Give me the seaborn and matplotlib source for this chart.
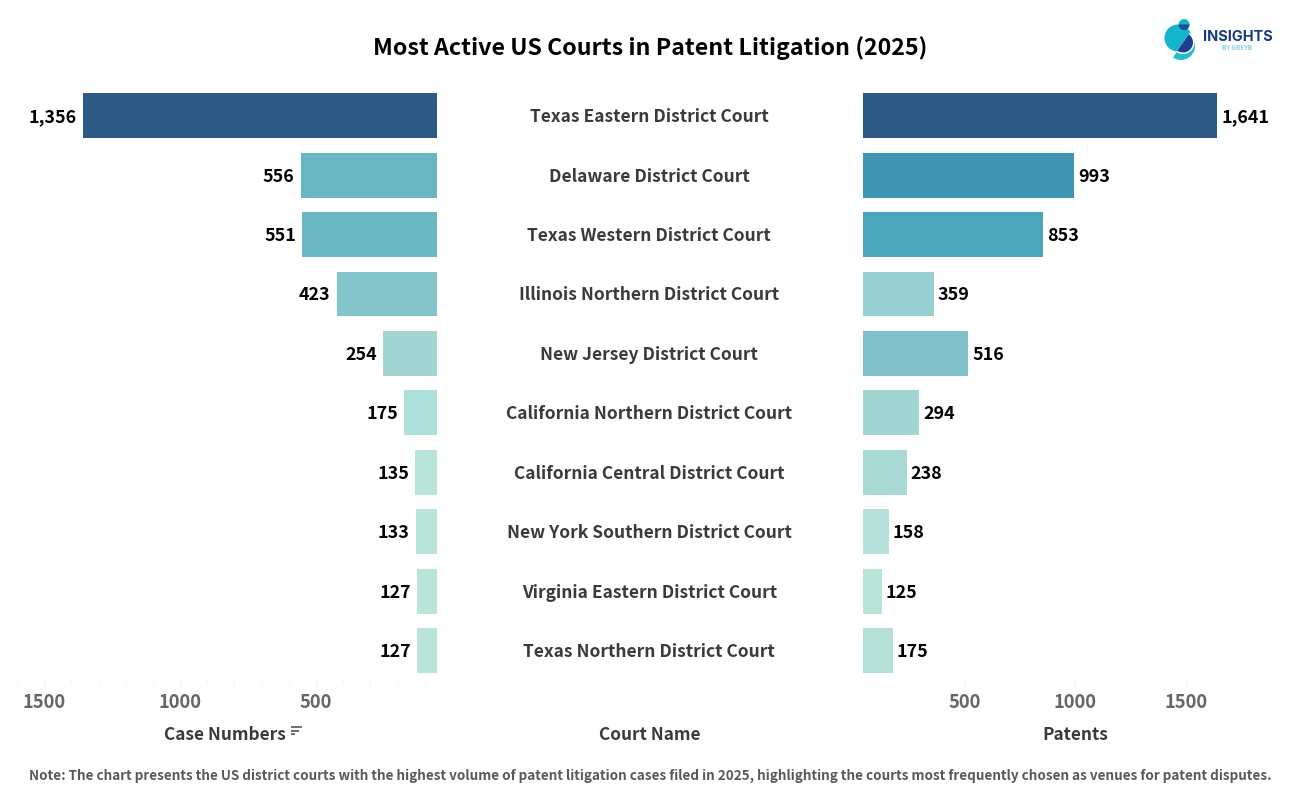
import pandas as pd
import matplotlib.pyplot as plt
import numpy as np
import seaborn as sns
from matplotlib.patches import Circle, Wedge

courts = ['Texas Eastern District Court', 'Delaware District Court', 'Texas Western District Court',
          'Illinois Northern District Court', 'New Jersey District Court', 'California Northern District Court',
          'California Central District Court', 'New York Southern District Court',
          'Virginia Eastern District Court', 'Texas Northern District Court']
case_numbers = [1356, 556, 551, 423, 254, 175, 135, 133, 127, 127]
patents = [1641, 993, 853, 359, 516, 294, 238, 158, 125, 175]

case_colors = ['#2d5986', '#6bb6c3', '#6cb7c4', '#84c5cb', '#a3d6d3', '#aedfd8', '#b8e4da', '#b8e4da', '#bae5db', '#bae5db']
patent_colors = ['#2d5986', '#3f96b2', '#4ca6bb', '#98d0d1', '#7fc0ca', '#a1d6d2', '#a9dbd4', '#b5e1d9', '#b9e4da', '#b4e0d8']

FONT = 'Noto Sans CJK SC'
W, H = 1300, 800

df = pd.DataFrame({'court': courts, 'cases': case_numbers, 'patents': patents})

sns.set_theme(style='white')
plt.rcParams['font.family'] = [FONT, 'DejaVu Sans']
plt.rcParams['font.weight'] = 'bold'

fig = plt.figure(figsize=(13, 8), dpi=100)


def add_ax(left, right, top, bottom):
    return fig.add_axes([left / W, 1 - bottom / H, (right - left) / W, (bottom - top) / H])


def ftext(x, y, s, **kw):
    fig.text(x / W, 1 - y / H, s, ha=kw.pop('ha', 'center'), va='center', fontweight='bold', **kw)


top, bottom = 86.0, 680.3
ax_left = add_ax(17, 437, top, bottom)
ax_mid = add_ax(437, 863, top, bottom)
ax_right = add_ax(863, 1275, top, bottom)

# left side, bars start behind the axis edge like the original
sns.barplot(data=df, y='court', x='cases', hue='court', palette=case_colors, legend=False,
            width=0.757, saturation=1, linewidth=0, ax=ax_left)
ax_left.set_xlim(1600, 55)
sns.barplot(data=df, y='court', x='patents', hue='court', palette=patent_colors, legend=False,
            width=0.757, saturation=1, linewidth=0, ax=ax_right)
ax_right.set_xlim(40, 1902)

for i, (c, p) in enumerate(zip(case_numbers, patents)):
    ax_left.annotate(f'{c:,}', (c, i), xytext=(-4.5, -1), textcoords='offset points', ha='right', va='center',
                     fontsize=12.9, fontweight='bold', color='black')
    ax_right.annotate(f'{p:,}', (p, i), xytext=(2.8, -1), textcoords='offset points', ha='left', va='center',
                      fontsize=12.9, fontweight='bold', color='black')
    ax_mid.annotate(courts[i], (0.5, i), xytext=(-0.6, -1), textcoords='offset points', ha='center', va='center',
                    fontsize=12.5, fontweight='bold', color='#3a3a3a')

ax_mid.set_ylim(ax_left.get_ylim())
ax_mid.set_xlim(0, 1)
ax_mid.axis('off')

for ax in [ax_left, ax_right]:
    sns.despine(ax=ax, left=True, bottom=True, top=True, right=True)
    ax.set_ylabel('')
    ax.set_xlabel('')
    ax.set_yticks([])
    ax.set_xticks([500, 1000, 1500])
    ax.set_xticklabels(['500', '1000', '1500'], fontsize=13.2, fontweight='bold', color='#666666')
    ax.tick_params(axis='x', which='major', length=4, width=0.8, color='#f0f0f0', pad=5.5, bottom=True)

ax_left.set_xticks(np.arange(100, 1700, 100), minor=True)
ax_left.tick_params(axis='x', which='minor', length=3, width=0.8, color='#f5f5f5', bottom=True)

# titles and notes
ftext(650, 48, 'Most Active US Courts in Patent Litigation (2025)', fontsize=16.7, color='black')
ftext(224.5, 734.5, 'Case Numbers', fontsize=12.4, color='#3a3a3a')
ftext(650, 734.5, 'Court Name', fontsize=12.4, color='#3a3a3a')
ftext(1075.5, 734.5, 'Patents', fontsize=12.4, color='#3a3a3a')
ftext(650, 775.5, 'Note: The chart presents the US district courts with the highest volume of patent litigation '
      'cases filed in 2025, highlighting the courts most frequently chosen as venues for patent disputes.',
      fontsize=9.7, color='#595959')

# sort icon beside Case Numbers
overlay = fig.add_axes([0, 0, 1, 1], zorder=5)
overlay.set_xlim(0, W)
overlay.set_ylim(H, 0)
overlay.axis('off')
overlay.patch.set_alpha(0)
for y, x2 in [(727, 302), (730.5, 299), (734, 295)]:
    overlay.plot([291, x2], [y, y], color='#555555', lw=1.2, solid_capstyle='butt')

# logo (y runs downward on this overlay, so wedge angles go clockwise on screen)
overlay.add_patch(Circle((1178, 38), 13.5, color='#14b5c9', lw=0))
overlay.add_patch(Wedge((1181, 46), 14, -20, 125, color='#22bccd', lw=0))
overlay.add_patch(Wedge((1183, 42.5), 11.5, -55, 125, color='#ffffff', lw=0))
overlay.add_patch(Wedge((1183, 42.5), 10, -55, 125, color='#1f3f94', lw=0))
overlay.add_patch(Circle((1184, 24.5), 5.5, color='#14b5c9', lw=0))
overlay.add_patch(Wedge((1184, 24.5), 5.5, 0, 180, color='#1c4f96', lw=0))
fig.text(1203 / W, 1 - 37 / H, 'INSIGHTS', ha='left', va='center', fontsize=10.4, fontweight='bold',
         family='Inter', color='#16387f', zorder=6)
ftext(1237, 47.5, 'BY GREYB', fontsize=4.5, color='#7fd0e0')

plt.savefig('out.png', dpi=100)
